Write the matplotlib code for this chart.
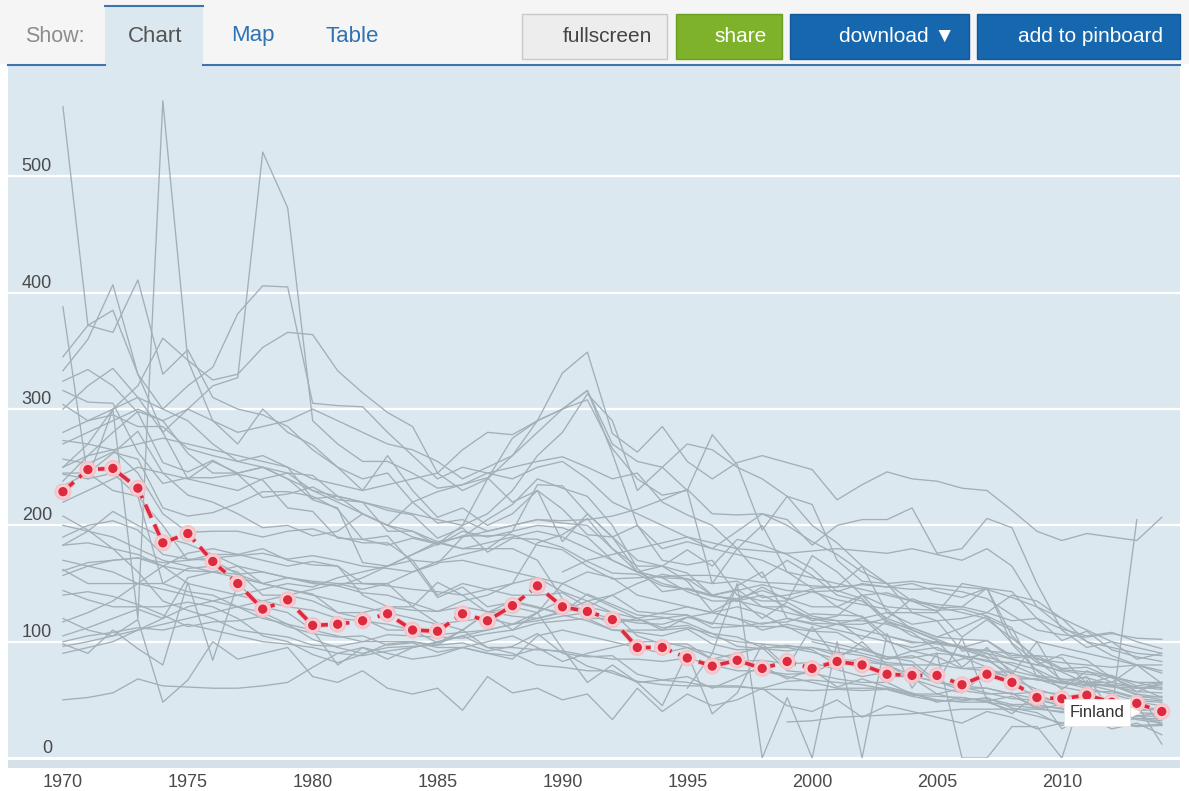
import numpy as np
import matplotlib.pyplot as plt
import matplotlib.patheffects as pe
from matplotlib.patches import Rectangle
from matplotlib.lines import Line2D
from matplotlib.transforms import offset_copy

years = list(range(1970, 2015))

# Finland, highlighted series
finland = [229, 248, 249, 232, 185, 193, 169, 150, 128, 136, 114, 115, 118, 124, 110,
           109, 124, 118, 131, 148, 130, 126, 119, 95, 95, 86, 79, 84, 77, 83,
           77, 83, 80, 72, 71, 71, 63, 72, 65, 52, 51, 54, 48, 47, 40]

# other countries (grey)
usa = [257,253,263,257,215, 208,211,219,229,229, 225,214,188,183,189, 184,191,191,192,183, 179,165,154,155,156, 157,157,154,151,150, 148,147,149,147,145, 146,143,137,123,110, 106,104,107,103,102]
fra = [324,334,320,297,254, 246,256,244,224,227, 233,222,220,213,209, 189,198,177,189,188, 181,169,159,158,148, 145,139,137,144,137, 130,130,121,101,92, 87,77,75,69,68, 64,63,58,52,53]
deu = [316,306,305,263,236, 241,241,244,239,215, 212,189,188,191,167, 138,147,130,134,129, 125,141,132,123,121, 116,107,104,95,95, 91,85,83,80,71, 65,62,60,55,51, 45,49,44,41,42]
gbr = [140,143,139,132,123, 113,117,118,122,113, 107,104,105,97,99, 91,95,90,88,94, 91,79,73,66,63, 62,62,62,59,59, 58,59,58,59,54, 53,52,48,41,36, 30,31,28,28,29]
jpn = [208,196,180,160,135, 127,120,110,107,104, 97,96,100,106,105, 104,103,107,110,116, 118,120,120,116,115, 121,116,114,113,113, 102,98,93,87,83, 66,61,56,51,50, 45,44,41,39,38]
ita = [190,200,204,196,175, 171,170,158,150,155, 151,148,142,140,133, 126,130,126,122,120, 126,135,140,126,124, 123,112,113,116,117, 124,123,122,105,99, 100,96,87,80,71, 68,65,62,57,56]
esp = [161,168,170,172,168, 170,172,174,176,171, 174,170,165,163,160, 167,190,205,218,240, 232,225,200,163,143, 146,140,144,149,144, 143,136,132,128,110, 102,94,86,68,59, 53,45,41,36,36]
prt = [250,270,300,320,361, 342,325,330,353,366, 364,333,314,297,285, 245,265,280,278,290, 300,316,270,255,250, 270,265,250,240,225, 200,185,165,150,125, 118,92,93,85,80, 89,84,69,60,61]
kor = [96,100,105,110,120, 130,135,140,145,150, 147,155,160,165,175, 184,200,240,275,290, 300,308,266,240,226, 230,278,252,196,225, 218,170,152,150,135, 132,130,125,118,120, 111,105,108,100,94]
lva = [270,280,290,300,290, 300,290,280,285,290, 300,290,280,270,265, 255,240,250,260,290, 331,349,279,263,285, 255,240,254,260,254, 248,222,235,246,240, 238,232,230,213,195, 187,193,190,187,207]
ltu = [250,260,265,270,275, 270,265,260,255,250, 240,235,230,235,240, 245,230,240,260,280, 300,316,262,200,180, 186,180,195,210,205, 183,200,205,205,215, 176,180,206,198,150, 110,95,100,85,90]
est = [220,230,240,250,245, 240,235,230,240,245, 230,225,220,215,210, 205,200,210,230,260, 280,313,290,230,250, 230,150,180,200,160, 146,147,165,125,125, 125,150,146,98,75, 59,75,65,61,59]
ser_a = [560,372,385,330,300, 290,270,255,250,240, 230,220,210,200,190, 185,180,185,190,195, 190,180,170,160,150, 145,140,135,130,125, 120,115,110,105,100, 98,95,92,90,85, 82,80,78,80,80]
ser_c = [300,320,335,310,280, 300,320,327,521,473, 290,270,255,255,245, 232,235,245,250,255, 259,250,240,245,220, 209,200,180,155,170, 157,140,135,120,137, 129,130,146,105,84, 67,69,63,61,52]
ser_d = [280,290,300,310,300, 320,336,382,406,405, 305,303,302,280,260, 240,250,245,240,250, 255,240,220,210,200, 190,180,175,170,160, 155,150,145,140,135, 130,125,120,110,100, 95,90,85,80,75]
aut = [345,372,366,411,330, 351,310,300,295,285, 265,250,240,245,220, 202,205,195,200,205, 202,200,180,160,165, 152,126,137,120,134, 122,118,118,115,108, 93,88,83,82,76, 66,62,63,54,50]
bel = [333,360,407,330,280, 240,255,245,250,245, 243,225,210,200,195, 183,195,190,195,200, 198,190,170,160,155, 143,135,135,147,136, 143,144,137,116,112, 104,102,101,88,88, 77,78,69,65,65]
can = [238,260,280,298,290, 262,245,245,250,240, 222,215,168,165,170, 168,170,165,160,155, 143,135,125,120,112, 114,104,100,98,96, 95,88,94,87,86, 90,88,84,72,67, 65,63,62,55,52]
aus = [304,290,295,285,285, 266,260,255,260,250, 223,225,220,195,195, 186,180,180,180,170, 137,120,110,110,110, 112,107,96,94,92, 95,91,88,82,80, 80,77,78,68,68, 61,57,57,51,49]
nzl = [234,245,262,281,245, 226,220,210,198,200, 191,195,210,200,220, 229,235,241,220,230, 214,192,190,170,165, 159,140,145,130,130, 120,118,102,118,105, 99,95,101,86,88, 86,64,70,57,65]
nld = [244,240,245,225,200, 170,175,165,150,145, 141,125,120,110,110, 99,105,95,95,93, 92,88,85,85,83, 86,80,75,75,72, 73,68,65,65,55, 50,48,48,45,43, 39,40,39,34,34]
swe = [162,150,150,150,150, 143,140,130,125,115, 102,95,90,95,96, 97,99,92,96,107, 90,87,88,72,67, 65,61,61,60,66, 67,65,63,59,53, 49,49,52,43,39, 28,34,30,27,28]
nor = [144,136,130,130,130, 134,130,120,105,100, 89,82,89,98,100, 97,110,95,90,80, 78,75,75,65,67, 70,60,69,79,68, 76,61,68,61,56, 48,52,49,53,44, 43,34,29,37,29]
dnk = [245,245,230,225,150, 163,165,160,140,140, 135,125,125,130,130, 151,140,125,135,130, 123,118,110,108,105, 111,98,93,94,97, 93,80,86,80,68, 61,56,74,74,55, 46,40,30,34,32]
che = [273,270,265,245,210, 194,195,195,190,195, 197,190,185,185,170, 140,150,145,140,140, 142,130,125,105,98, 98,85,83,84,81, 82,76,70,74,69, 55,50,51,46,46, 42,41,42,33,30]
irl = [183,195,212,200,190, 184,175,175,180,170, 166,165,150,150,130, 116,110,125,130,125, 136,125,115,120,110, 121,125,130,124,112, 109,108,96,85,92, 95,87,78,63,53, 47,41,35,41,42]
lux = [388,240,300,120,565, 342,290,270,300,280, 269,250,230,260,230, 207,215,200,210,230, 186,210,190,200,170, 166,170,140,135,135, 174,160,140,118,110, 101,78,95,72,100, 64,65,65,80,64]
grc = [105,112,120,128,120, 155,160,165,160,155, 150,148,155,165,175, 186,190,195,200,205, 204,205,208,214,222, 231,210,209,210,200, 186,175,160,150,152, 149,147,145,138,130, 113,100,88,80,73]
hun = [157,165,170,172,165, 161,160,158,160,155, 152,150,145,150,160, 169,175,180,195,235, 234,210,190,160,155, 154,140,135,140,130, 118,122,140,130,128, 127,128,122,99,82, 74,64,61,60,63]
cze = [183,185,180,175,165, 150,145,140,135,130, 127,120,118,115,110, 106,108,110,115,120, 125,130,140,150,158, 154,150,152,138,140, 145,130,140,142,135, 126,104,119,103,86, 76,74,71,62,65]
pol = [117,125,135,150,165, 176,180,175,170,165, 169,165,140,130,127, 126,135,140,150,185, 192,206,180,165,165, 179,165,188,183,175, 163,143,150,147,150, 143,138,146,143,120, 101,109,93,87,83]
svk = [200,195,190,180,170, 165,160,155,150,145, 140,135,130,125,120, 115,118,120,115,118, 122,125,120,118,120, 123,115,148,160,120, 116,115,115,120,112, 104,112,122,112,70, 65,60,55,49,48]
isr = [170,165,160,150,145, 140,135,130,120,115, 110,105,100,100,100, 95,95,100,105,95, 83,90,95,100,100, 95,85,90,95,75, 73,83,80,70,70, 66,58,55,56,42, 46,45,36,36,39]
isl = [98,90,110,94,80, 151,84,150,130,125, 110,80,95,85,95, 99,110,125,110,125, 94,65,80,65,45, 90,38,56,98,78, 113,85,100,80,80, 64,103,50,38,55, 25,38,28,46,12]
tur = [50,52,56,68,62, 61,60,60,62,65, 78,90,95,90,85, 88,95,90,85,105, 110,105,100,95,90, 95,90,85,75,70, 65,60,60,60,55, 55,60,60,55,57, 55,50,50,48,45]
ser_n = [120,110,105,119,48, 67,100,85,90,95, 70,65,75,60,55, 60,41,70,56,60, 50,55,33,60,40, 55,45,50,60,45, 40,50,35,45,40, 35,30,40,35,25, 30,35,25,30,20]
mex = [None]*29 + [31,32,35,36,37, 38,40,42,42,42, 42,40,45,48,44,42]
lie = [None]*25 + [60,90,150,0,52, 0,100,0,107,60, 90,0,0,27,27, 0,67,30,55,28]
ser_s = [None]*30 + [100,95,90,85,88, 80,85,90,75,70, 65,70,40,205,None]
ser_x1 = [90,95,100,110,115, 120,125,130,135,140, 145,150,150,148,145, 143,140,145,150,155, 150,140,130,120,125, 130,125,120,115,120, 115,110,105,100,95, 100,95,90,85,80, 75,72,70,65,60]
ser_x2 = [100,105,108,112,110, 115,110,105,100,98, 95,90,88,92,95, 100,105,110,115,125, 150,160,155,140,135, 130,125,120,110,115, 110,115,120,125,115, 118,120,125,140,135, 120,100,95,90,88]
ser_x3 = [None]*20 + [160,170,175,180,185, 190,185,180,178,176, 178,180,178,176,180, 175,170,180,165,130, 120,110,100,95,90]

grey_series = [usa, fra, deu, gbr, jpn, ita, esp, prt, kor, lva, ltu, est, ser_a, ser_c,
               ser_d, aut, bel, can, aus, nzl, nld, swe, nor, dnk, che, irl, lux, grc,
               hun, cze, pol, svk, isr, isl, tur, ser_n, mex, lie, ser_s, ser_x1,
               ser_x2, ser_x3]

yticks = [0, 100, 200, 300, 400, 500]
xticks = [1970, 1975, 1980, 1985, 1990, 1995, 2000, 2005, 2010]

FONT = ['Liberation Sans', 'DejaVu Sans']
plt.rcParams['font.family'] = FONT

W, H = 1189, 791
fig = plt.figure(figsize=(W / 100, H / 100), dpi=100)
fig.patch.set_facecolor('white')


def fx(x):
    return x / W


def fy(y):
    return 1 - y / H


# toolbar
fig.add_artist(Rectangle((0, fy(64)), 1, fy(0) - fy(64), transform=fig.transFigure,
                         fc='#f5f5f5', ec='none'))
fig.add_artist(Rectangle((fx(105), fy(66)), fx(203) - fx(105), fy(5) - fy(66),
                         transform=fig.transFigure, fc='#dce8f0', ec='none'))
fig.add_artist(Line2D([fx(105), fx(203)], [fy(5.5), fy(5.5)], transform=fig.transFigure,
                      color='#3d74ab', lw=1.5))
fig.add_artist(Line2D([fx(8), fx(105)], [fy(65), fy(65)], transform=fig.transFigure,
                      color='#3d74ab', lw=1.5))
fig.add_artist(Line2D([fx(203), fx(1180)], [fy(65), fy(65)], transform=fig.transFigure,
                      color='#3d74ab', lw=1.5))
fig.text(fx(55), fy(36), 'Show:', ha='center', va='center', fontsize=15.5, color='#8c8c8c')
fig.text(fx(155), fy(36), 'Chart', ha='center', va='center', fontsize=16, color='#555555')
fig.text(fx(253), fy(36), 'Map', ha='center', va='center', fontsize=16, color='#2f72b3')
fig.text(fx(352), fy(36), 'Table', ha='center', va='center', fontsize=16, color='#2f72b3')

buttons = [(522, 667, '#ededed', '#c9c9c9', 'fullscreen', '#444444', 607),
           (676, 782, '#7db22a', '#6d9d22', 'share', 'white', 741),
           (790, 969, '#1667ad', '#11599a', 'download \u25bc', 'white', 897),
           (977, 1180, '#1667ad', '#11599a', 'add to pinboard', 'white', 1091)]
for x0, x1, fc, ec, label, tc, tx in buttons:
    fig.add_artist(Rectangle((fx(x0), fy(59)), fx(x1) - fx(x0), fy(14) - fy(59),
                             transform=fig.transFigure, fc=fc, ec=ec, lw=1))
    fig.text(fx(tx), fy(36), label, ha='center', va='center', fontsize=15, color=tc)

# plot area
ax = fig.add_axes([fx(8), fy(758), fx(1180) - fx(8), fy(66) - fy(758)])
ax.set_facecolor('#dce8f0')
ax.set_xlim(1967.8, 2014.73)
ax.set_ylim(0, 595)
for s in ax.spines.values():
    s.set_visible(False)
ax.set_xticks([])
ax.set_yticks([])

for v in yticks[1:]:
    ax.axhline(v, color='white', lw=1.6, zorder=1)
ax.axhline(0, color='white', lw=2.2, zorder=1, clip_on=False)

for v in yticks:
    ax.annotate(str(v), xy=(0.0375, v), xycoords=('axes fraction', 'data'),
                xytext=(0, 5), textcoords='offset pixels', ha='right', va='baseline',
                fontsize=13, color='#4a4a4a')

# axis band below the plot
fig.add_artist(Rectangle((fx(8), fy(768)), fx(1180) - fx(8), fy(759.5) - fy(768),
                         transform=fig.transFigure, fc='#d6e0e8', ec='none'))
ax.vlines(xticks, -0.014, -0.003, transform=ax.get_xaxis_transform(),
          colors='#f4f7fa', lw=2, clip_on=False, zorder=5)
for yr in xticks:
    ax.annotate(str(yr), xy=(yr, 0), xycoords=('data', 'axes fraction'),
                xytext=(0, -29), textcoords='offset pixels', ha='center', va='baseline',
                fontsize=13, color='#4a4a4a')

for s in grey_series:
    vals = np.array([np.nan if v is None else v for v in s], dtype=float)
    ax.plot(years, vals, color='#a3afb7', lw=0.95, zorder=2)

ax.plot(years, finland, color='#dc2a3e', lw=2.6, dashes=(4, 2), zorder=4,
        marker='o', ms=8, mfc='#dc2a3e', mec='#f8d0d5', mew=1.3,
        path_effects=[pe.Stroke(linewidth=4.2, foreground='#f3c3c9'), pe.Normal()])

ax.annotate('Finland', xy=(2012, finland[42]), xytext=(-15, -10), textcoords='offset pixels',
            ha='center', va='center', fontsize=12, color='#333333', zorder=7,
            bbox=dict(boxstyle='square,pad=0.35', fc='white', ec='#e6e6e6', lw=0.6))
ax.plot([2012], [finland[42]], marker='>', color='white', ms=6, zorder=7,
        transform=offset_copy(ax.transData, fig=fig, x=23, y=-10, units='dots'))

fig.savefig('out.png', dpi=100)
